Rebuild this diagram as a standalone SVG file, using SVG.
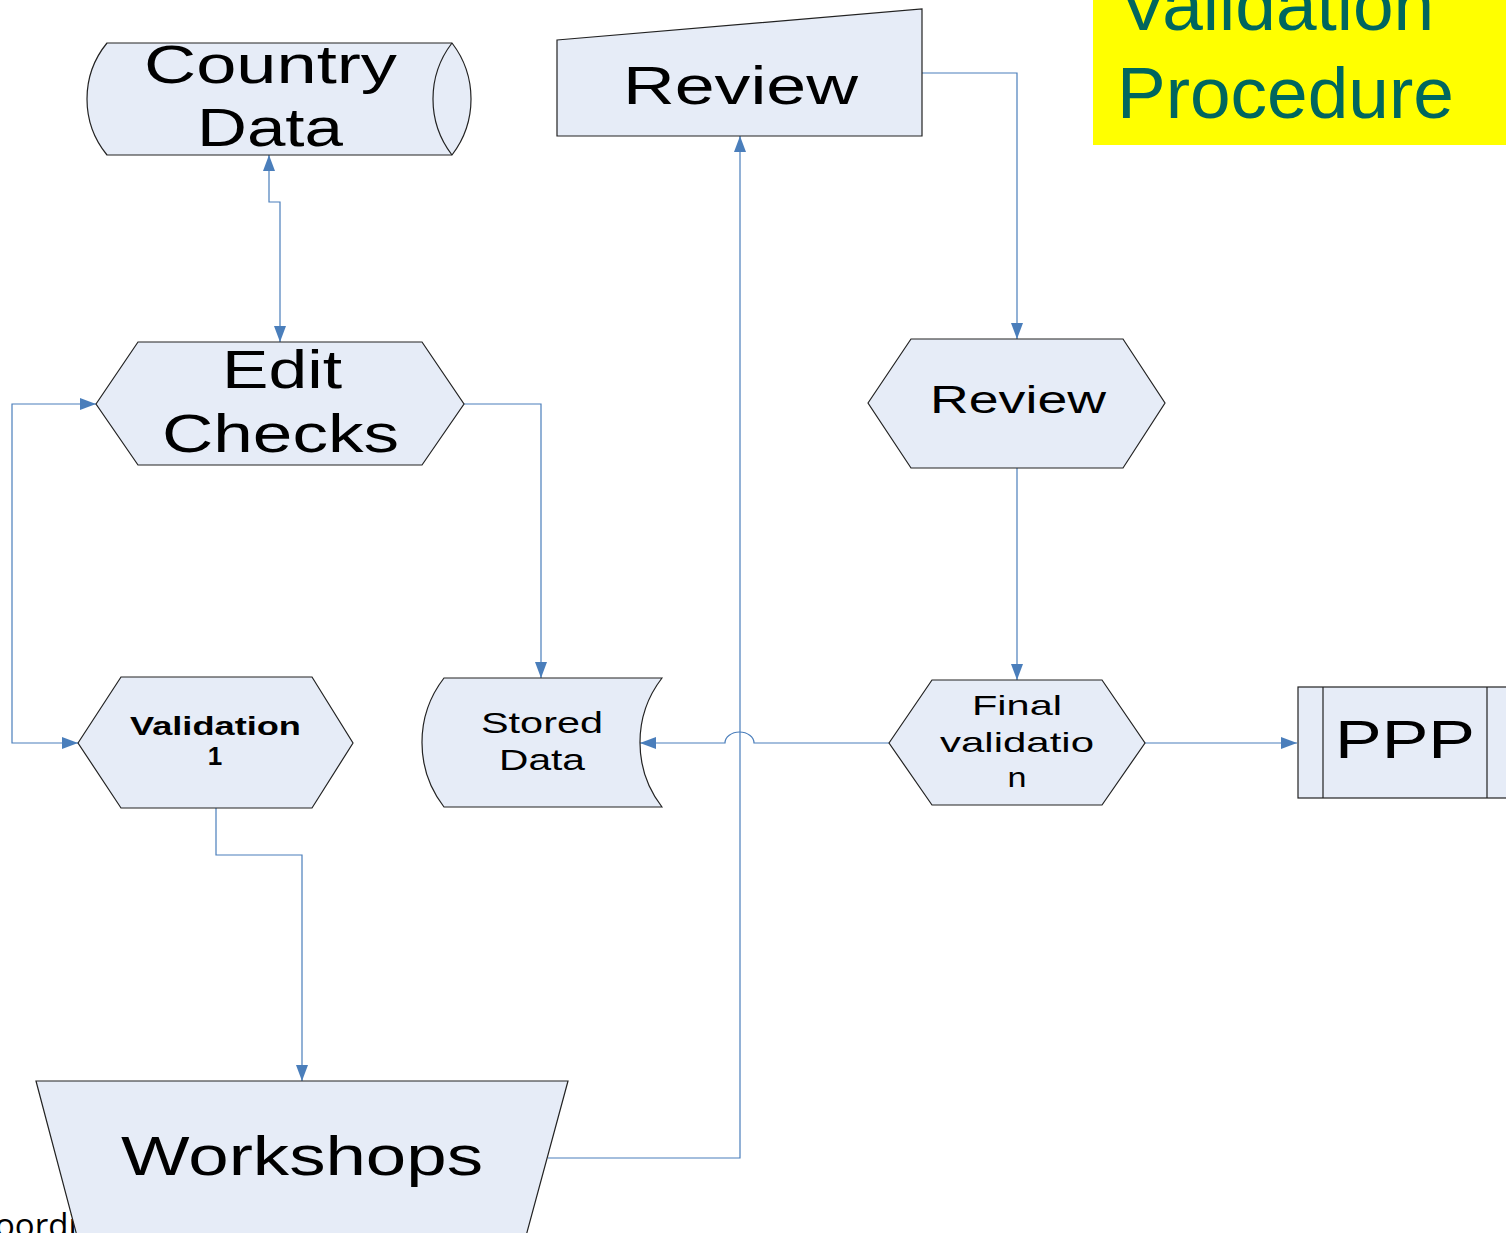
<svg xmlns="http://www.w3.org/2000/svg" width="1506" height="1233" viewBox="0 0 1506 1233">
<style>
.node{fill:#E6ECF7;stroke:#222;stroke-width:1.2}
.inner{fill:none;stroke:#222;stroke-width:1.2}
.conn{fill:none;stroke:#4A7EBB;stroke-width:1.2}
.t{font-family:"Liberation Sans",Arial,sans-serif;fill:#000;text-anchor:middle}
.b{font-weight:bold}
.title{font-family:"Liberation Sans",Arial,sans-serif;fill:#00665E;font-size:73px}
.note{font-family:"Open Sans","Noto Sans",sans-serif;fill:#000;font-size:33px}
</style>
<defs>
<marker id="arr" viewBox="0 0 16 12" refX="16" refY="6" markerWidth="16" markerHeight="12" markerUnits="userSpaceOnUse" orient="auto-start-reverse">
<path d="M0,0 L16,6 L0,12 z" fill="#4A7EBB"/>
</marker>
</defs>
<rect x="1093" y="0" width="413" height="145" fill="#FFFF00"/>
<text class="title" x="1119" y="30">Validation</text>
<text class="title" x="1117" y="118">Procedure</text>
<text class="note" x="-5" y="1237">oordi</text>
<g id="connectors">
<path class="conn" d="M280,342 V202 H269 V155" marker-start="url(#arr)" marker-end="url(#arr)"/>
<path class="conn" d="M96,404 H12 V743 H78" marker-start="url(#arr)" marker-end="url(#arr)"/>
<path class="conn" d="M464,404 H541 V678" marker-end="url(#arr)"/>
<path class="conn" d="M216,808 V855 H302 V1081" marker-end="url(#arr)"/>
<path class="conn" d="M548,1158 H740 V136" marker-end="url(#arr)"/>
<path class="conn" d="M922,73 H1017 V339" marker-end="url(#arr)"/>
<path class="conn" d="M1017,468 V680" marker-end="url(#arr)"/>
<path class="conn" d="M890,743 H754 A14.5,11 0 0 0 725,743 H640" marker-end="url(#arr)"/>
<path class="conn" d="M1145,743 H1297" marker-end="url(#arr)"/>
</g>
<g id="country-data">
<path class="node" d="M107,43 H452 A92,92 0 0 1 452,155 H107 A88.4,88.4 0 0 1 107,43 Z"/>
<path class="inner" d="M452,43 A92,92 0 0 0 452,155"/>
<text class="t" font-size="54" x="270.5" y="83" textLength="253" lengthAdjust="spacingAndGlyphs">Country</text>
<text class="t" font-size="54" x="270" y="146" textLength="146" lengthAdjust="spacingAndGlyphs">Data</text>
</g>
<g id="edit-checks">
<path class="node" d="M96,404 L138,342 H422 L464,404 L422,465 H138 Z"/>
<text class="t" font-size="53" x="282" y="388" textLength="120" lengthAdjust="spacingAndGlyphs">Edit</text>
<text class="t" font-size="53" x="280.5" y="452" textLength="237" lengthAdjust="spacingAndGlyphs">Checks</text>
</g>
<g id="validation-1">
<path class="node" d="M78,743 L121,677 H312 L353,743 L312,808 H121 Z"/>
<text class="t b" font-size="26" x="215.5" y="735" textLength="171" lengthAdjust="spacingAndGlyphs">Validation</text>
<text class="t b" font-size="26" x="215" y="765">1</text>
</g>
<g id="stored-data">
<path class="node" d="M444,678 H662 A105.5,105.5 0 0 0 662,807 H444 A105.5,105.5 0 0 1 444,678 Z"/>
<text class="t" font-size="29.5" x="542" y="733" textLength="122" lengthAdjust="spacingAndGlyphs">Stored</text>
<text class="t" font-size="29.5" x="542" y="770" textLength="86" lengthAdjust="spacingAndGlyphs">Data</text>
</g>
<g id="review-input">
<path class="node" d="M557,40 L922,9 V136 H557 Z"/>
<text class="t" font-size="54" x="740.5" y="104" textLength="235" lengthAdjust="spacingAndGlyphs">Review</text>
</g>
<g id="review">
<path class="node" d="M868,403 L911,339 H1123 L1165,403 L1123,468 H911 Z"/>
<text class="t" font-size="39" x="1018" y="413" textLength="176" lengthAdjust="spacingAndGlyphs">Review</text>
</g>
<g id="final-validation">
<path class="node" d="M889,743 L932,680 H1102 L1145,743 L1102,805 H932 Z"/>
<text class="t" font-size="28" x="1017" y="715" textLength="90" lengthAdjust="spacingAndGlyphs">Final</text>
<text class="t" font-size="28" x="1017" y="752" textLength="154" lengthAdjust="spacingAndGlyphs">validatio</text>
<text class="t" font-size="28" x="1017" y="787" textLength="19" lengthAdjust="spacingAndGlyphs">n</text>
</g>
<g id="ppp">
<rect class="node" x="1298" y="687" width="214" height="111"/>
<path class="inner" d="M1323,687 V798 M1487,687 V798"/>
<text class="t" font-size="53" x="1405" y="758" textLength="140" lengthAdjust="spacingAndGlyphs">PPP</text>
</g>
<g id="workshops">
<path class="node" d="M36,1081 H568 L526,1236 H77 Z"/>
<text class="t" font-size="56" x="302" y="1175" textLength="362" lengthAdjust="spacingAndGlyphs">Workshops</text>
</g>
</svg>
